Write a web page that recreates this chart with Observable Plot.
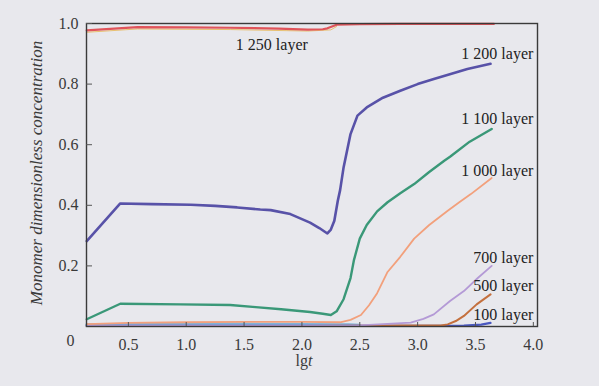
<!DOCTYPE html>
<html>
<head>
<meta charset="utf-8">
<script src="https://cdn.jsdelivr.net/npm/d3@7"></script>
<script src="https://cdn.jsdelivr.net/npm/@observablehq/plot@0.6"></script>
<style>
  html, body { margin: 0; padding: 0; background: #e8e8ed; }
  #chart { width: 599px; height: 386px; }
</style>
</head>
<body>
<div id="chart"></div>
<script>
// ---- data ----
const lgt1250 = [0.14, 0.58, 1.0, 1.38, 1.8, 2.05, 2.18, 2.22, 2.30, 2.5, 2.85, 3.3, 3.66];
const val1250 = [0.977, 0.988, 0.987, 0.986, 0.983, 0.980, 0.981, 0.984, 0.996, 0.998, 0.999, 0.999, 0.999];
const lgt1250b = [0.14, 0.58, 1.38, 2.05, 2.25, 2.30];
const val1250b = [0.971, 0.982, 0.980, 0.975, 0.979, 0.990];

const lgt1200 = [0.14, 0.43, 0.7, 1.04, 1.25, 1.44, 1.64, 1.73, 1.90, 2.07, 2.15, 2.22, 2.25, 2.28, 2.31, 2.33, 2.36, 2.42, 2.48, 2.56, 2.7, 2.85, 3.0, 3.14, 3.3, 3.43, 3.63];
const val1200 = [0.282, 0.406, 0.404, 0.402, 0.398, 0.393, 0.386, 0.384, 0.371, 0.343, 0.325, 0.307, 0.32, 0.349, 0.415, 0.45, 0.525, 0.635, 0.696, 0.723, 0.755, 0.778, 0.80, 0.817, 0.835, 0.850, 0.867];

const lgt1100 = [0.14, 0.43, 0.95, 1.38, 1.6, 1.82, 2.07, 2.18, 2.25, 2.30, 2.36, 2.42, 2.45, 2.50, 2.56, 2.65, 2.74, 2.85, 2.97, 3.1, 3.23, 3.28, 3.45, 3.64];
const val1100 = [0.024, 0.075, 0.073, 0.071, 0.064, 0.057, 0.048, 0.042, 0.038, 0.05, 0.09, 0.16, 0.22, 0.29, 0.335, 0.38, 0.41, 0.44, 0.47, 0.51, 0.547, 0.56, 0.61, 0.652];

const lgt1000 = [0.14, 0.5, 1.0, 1.5, 2.0, 2.33, 2.42, 2.51, 2.58, 2.65, 2.74, 2.85, 2.97, 3.1, 3.26, 3.36, 3.46, 3.64];
const val1000 = [0.008, 0.012, 0.014, 0.015, 0.015, 0.014, 0.022, 0.038, 0.07, 0.11, 0.18, 0.23, 0.29, 0.335, 0.382, 0.41, 0.437, 0.49];

const lgt700 = [0.14, 1.0, 2.0, 2.5, 2.94, 3.05, 3.14, 3.28, 3.40, 3.52, 3.64];
const val700 = [0.003, 0.003, 0.003, 0.004, 0.013, 0.025, 0.04, 0.084, 0.117, 0.16, 0.2];

const lgt500 = [0.14, 1.0, 2.0, 2.8, 3.2, 3.26, 3.33, 3.40, 3.51, 3.63];
const val500 = [0.002, 0.002, 0.002, 0.003, 0.003, 0.007, 0.018, 0.035, 0.073, 0.106];

const lgt100 = [0.14, 1.0, 2.0, 3.0, 3.4, 3.55, 3.63];
const val100 = [0.002, 0.002, 0.002, 0.002, 0.003, 0.006, 0.012];

const lgtLow = [0.14, 1.0, 1.44, 2.0, 2.4, 2.5];
const valLow = [0.006, 0.008, 0.008, 0.007, 0.006, 0.004];

const labelText = ["1 250 layer", "1 200 layer", "1 100 layer", "1 000 layer", "700 layer", "500 layer", "100 layer"];
const labelX    = [1.74, 4.0, 4.0, 4.0, 4.0, 4.0, 4.0];
const labelY    = [0.931, 0.901, 0.686, 0.515, 0.228, 0.135, 0.04];
const labelAnchor = ["middle", "end", "end", "end", "end", "end", "end"];

const xTicks = [0.5, 1.0, 1.5, 2.0, 2.5, 3.0, 3.5, 4.0];
const yTicks = [0.2, 0.4, 0.6, 0.8, 1.0];
const originLabel = [0];

const yTitle = "Monomer dimensionless concentration";
const xTitle = "lgt";

// ---- tables ----
const toRows = (xs, ys) => xs.map((x, i) => ({x, y: ys[i]}));
const series = [
  {rows: toRows(lgtLow, valLow), color: "#7fb3d9", w: 3},
  {rows: toRows(lgt100, val100), color: "#4a58c0", w: 2.2},
  {rows: toRows(lgt500, val500), color: "#c4703e", w: 2},
  {rows: toRows(lgt700, val700), color: "#b49ad6", w: 1.8},
  {rows: toRows(lgt1000, val1000), color: "#f2a07c", w: 1.8},
  {rows: toRows(lgt1100, val1100), color: "#3a9878", w: 2.4},
  {rows: toRows(lgt1200, val1200), color: "#5852a8", w: 2.6},
  {rows: toRows(lgt1250b, val1250b), color: "#e8c070", w: 1},
  {rows: toRows(lgt1250, val1250), color: "#e0545a", w: 2.2}
];
const labels = labelText.map((t, i) => ({t, x: labelX[i], y: labelY[i], a: labelAnchor[i]}));

const serif = "'Liberation Serif', 'DejaVu Serif', serif";

const plot = Plot.plot({
  width: 599,
  height: 386,
  marginLeft: 86,
  marginRight: 62,
  marginTop: 23,
  marginBottom: 60,
  style: {background: "#e8e8ed", fontFamily: serif, fontSize: "16px", color: "#333"},
  x: {domain: [0.138, 4.036]},
  y: {domain: [0, 1]},
  marks: [
    ...series.map(s => Plot.line(s.rows, {x: "x", y: "y", stroke: s.color, strokeWidth: s.w, curve: "linear"})),
    Plot.frame({stroke: "#3a3a3a", strokeWidth: 1.4}),
    Plot.axisX({ticks: xTicks, tickSize: -4, tickPadding: 16, tickFormat: d => d.toFixed(1), label: null, fontSize: 16, stroke: "#555", fill: "#3a3a3a"}),
    Plot.axisY({ticks: yTicks, tickSize: -6, tickPadding: 14, tickFormat: d => d.toFixed(1), label: null, fontSize: 16, stroke: "#555", fill: "#3a3a3a"}),
    Plot.text(originLabel, {x: d => d, frameAnchor: "bottom", dy: 19, text: d => String(d), fontSize: 16, fill: "#3a3a3a"}),
    Plot.text(labels.filter(d => d.a === "end"), {x: "x", y: "y", text: "t", textAnchor: "end", fontSize: 16, fill: "#222"}),
    Plot.text(labels.filter(d => d.a === "middle"), {x: "x", y: "y", text: "t", textAnchor: "middle", fontSize: 16, fill: "#222"}),
    Plot.text([yTitle], {frameAnchor: "left", textAnchor: "middle", dx: -50, dy: -2, rotate: -90, fontStyle: "italic", fontSize: 17, fill: "#3a3a3a"}),
    Plot.text([xTitle], {frameAnchor: "bottom", dx: -8, dy: 39, fontSize: 16, fill: "#3a3a3a"})
  ]
});

document.getElementById("chart").appendChild(plot);

// italic "t" in lgt
d3.select(plot).selectAll("text").filter(function () { return this.textContent === "lgt"; })
  .each(function () {
    const el = d3.select(this);
    el.text(null);
    el.append("tspan").text("lg");
    el.append("tspan").attr("font-style", "italic").text("t");
  });
</script>
</body>
</html>
